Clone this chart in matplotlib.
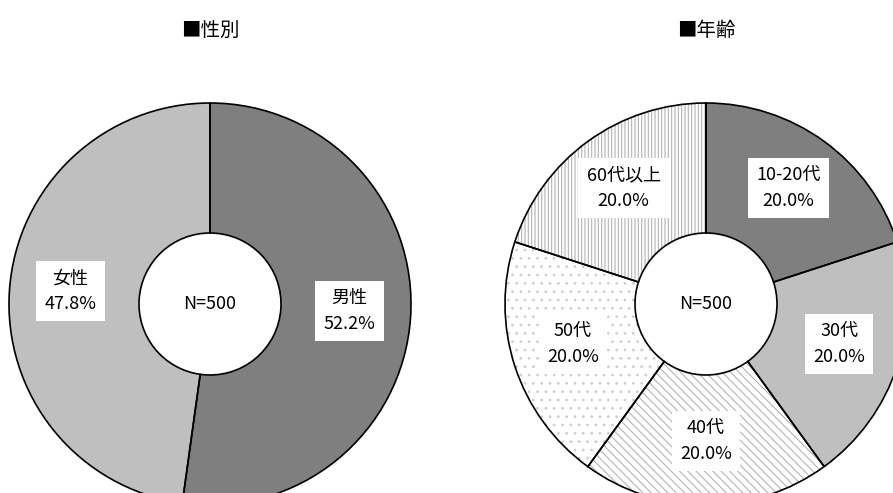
import matplotlib
matplotlib.use('Agg')
import numpy as np
import matplotlib.pyplot as plt

plt.rcParams['font.family'] = ['Noto Sans CJK JP', 'DejaVu Sans']
plt.rcParams['hatch.linewidth'] = 0.8

# 性別
gender_labels = ['男性', '女性']
gender_values = [52.2, 47.8]
gender_colors = ['#7f7f7f', '#bfbfbf']
gender_hatch = ['', '']

# 年齢
age_labels = ['10-20代', '30代', '40代', '50代', '60代以上']
age_values = [20.0, 20.0, 20.0, 20.0, 20.0]
age_colors = ['#7f7f7f', '#bfbfbf', 'white', 'white', 'white']
age_hatch = ['', '', '\\\\\\\\', '..', '|||||']
age_hatch_colors = ['#7f7f7f', '#bfbfbf', '#b3b3b3', '#cfcfcf', '#b3b3b3']

n_total = 500

fig = plt.figure(figsize=(8.93, 4.93), dpi=100)
ax = fig.add_axes([0, 0, 1, 1])

R = 201
ring = 130
label_r = 140


def donut(cx, cy, labels, values, colors, hatches, hatch_colors, title):
    # fill + hatch layer (hatch colour comes from edgecolor)
    fills, _ = ax.pie(values, center=(cx, cy), radius=R, startangle=90,
                      counterclock=False, colors=colors, hatch=hatches,
                      wedgeprops=dict(width=ring, linewidth=0))
    for w, hc in zip(fills, hatch_colors):
        w.set_edgecolor(hc)
    # outline layer
    wedges, _ = ax.pie(values, center=(cx, cy), radius=R, startangle=90,
                       counterclock=False,
                       wedgeprops=dict(width=ring, facecolor='none',
                                       edgecolor='black', linewidth=1.2))
    for w, lab, v in zip(wedges, labels, values):
        ang = np.deg2rad((w.theta1 + w.theta2) / 2)
        x = cx + label_r * np.cos(ang)
        y = cy + label_r * np.sin(ang) + 3
        ax.text(x, y, f'{lab}\n{v:.1f}%', ha='center', va='center',
                fontsize=13, linespacing=1.55,
                bbox=dict(facecolor='white', edgecolor='none', pad=6))
    ax.text(cx, cy, f'N={n_total}', ha='center', va='center', fontsize=13)
    ax.text(cx, 463, title, ha='center', va='center', fontsize=14)


donut(210, 189, gender_labels, gender_values, gender_colors, gender_hatch,
      gender_colors, '■性別')
donut(706, 189, age_labels, age_values, age_colors, age_hatch,
      age_hatch_colors, '■年齢')

ax.set_xlim(0, 893)
ax.set_ylim(0, 493)
ax.set_aspect('auto')
ax.axis('off')

fig.savefig('out.png', dpi=100, facecolor='white')
